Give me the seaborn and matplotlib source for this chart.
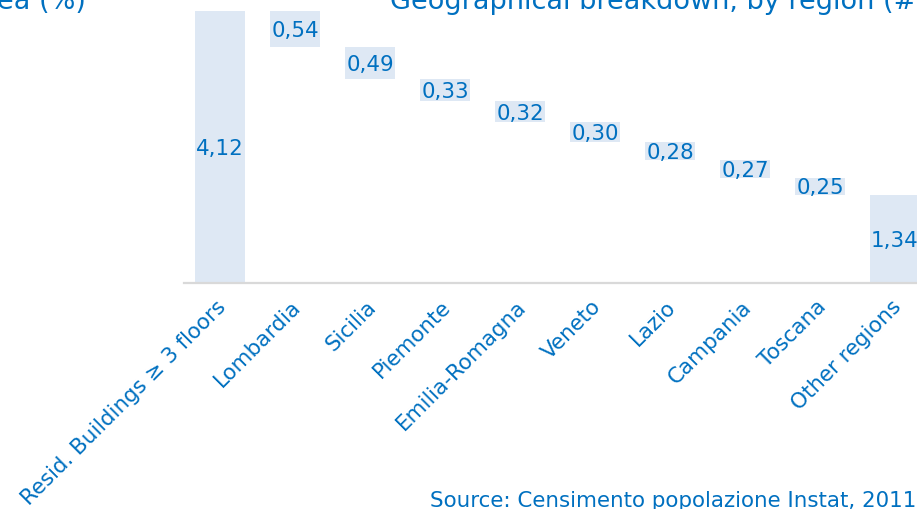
import matplotlib
matplotlib.use("Agg")
import matplotlib.pyplot as plt
import matplotlib.transforms as mtransforms
import numpy as np
import pandas as pd
import seaborn as sns

# Waterfall data: total stock of residential buildings, split by region
categories = ["Resid. Buildings \u2265 3 floors", "Lombardia", "Sicilia", "Piemonte",
              "Emilia-Romagna", "Veneto", "Lazio", "Campania", "Toscana", "Other regions"]
values = [4.12, 0.54, 0.49, 0.33, 0.32, 0.30, 0.28, 0.27, 0.25, 1.34]
value_labels = ["4,12", "0,54", "0,49", "0,33", "0,32", "0,30", "0,28", "0,27", "0,25", "1,34"]

# First and last bars stand on the axis, the regional bars float downward
bottoms = [0.0]
running = values[0]
for v in values[1:-1]:
    running -= v
    bottoms.append(running)
bottoms.append(0.0)

df = pd.DataFrame({"category": categories, "value": values, "bottom": bottoms})

TEXT_BLUE = "#0070C0"
BAR_FILL = "#DEE8F4"
FS = 15.4

sns.set_theme(style="white")
plt.rcParams["font.family"] = ["DejaVu Sans"]

fig = plt.figure(figsize=(9.17, 5.09), dpi=100)
ax = fig.add_axes([184 / 917, 226 / 509, 733 / 917, 283 / 509])

sns.barplot(data=df, x="category", y="value", bottom=df["bottom"].to_numpy(),
            color=BAR_FILL, saturation=1, width=0.676, linewidth=0, ax=ax)

# Value labels centred in each bar, nudged slightly downward
label_shift = mtransforms.ScaledTranslation(0, -2 / 100, fig.dpi_scale_trans)
for i, (v, b, lab) in enumerate(zip(values, bottoms, value_labels)):
    ax.text(i, b + v / 2, lab, ha="center", va="center", fontsize=FS, color=TEXT_BLUE,
            transform=ax.transData + label_shift)

ax.set_xlim(-0.48, -0.48 + 733 / 75)
ax.set_ylim(0, 283 / 65.95)
ax.set_xlabel("")
ax.set_ylabel("")
ax.set_yticks([])
for side in ["left", "right", "top"]:
    ax.spines[side].set_visible(False)
ax.spines["bottom"].set_color("#D9D9D9")
ax.spines["bottom"].set_linewidth(1.6)

ax.tick_params(axis="x", length=0, pad=15, labelsize=FS, labelcolor=TEXT_BLUE)
for lbl in ax.get_xticklabels():
    lbl.set_rotation(45)
    lbl.set_ha("right")
    lbl.set_va("center")
    lbl.set_rotation_mode("anchor")
    lbl.set_transform(lbl.get_transform() + mtransforms.ScaledTranslation(3 / 100, 0, fig.dpi_scale_trans))

# Headings along the top edge and the source note
fig.text(86 / 917, 1 - 9 / 509, "ea (%)", ha="right", va="baseline", fontsize=19.5, color=TEXT_BLUE)
fig.text(390 / 917, 1 - 9 / 509, "Geographical breakdown, by region (#)", ha="left", va="baseline",
         fontsize=19.5, color=TEXT_BLUE)
fig.text(430 / 917, 1 - 507 / 509, "Source: Censimento popolazione Instat, 2011", ha="left",
         va="baseline", fontsize=FS, color=TEXT_BLUE)

fig.savefig("out.png", dpi=100)
